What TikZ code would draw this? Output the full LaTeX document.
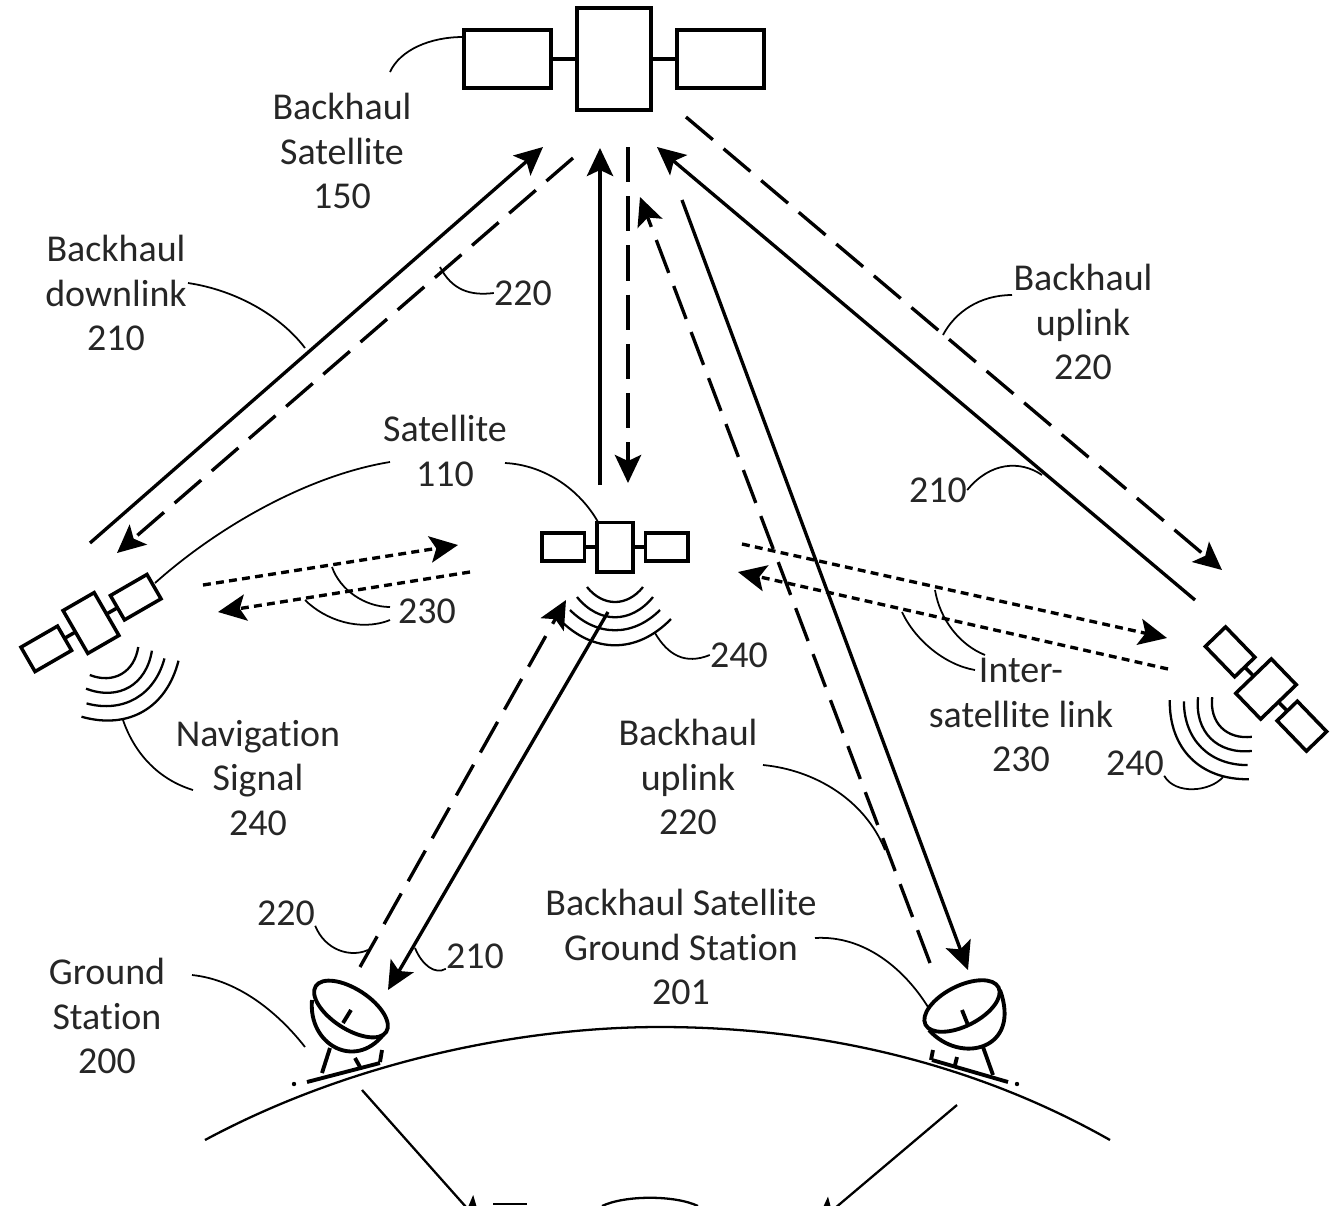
\documentclass[tikz,border=0pt]{standalone}
\usepackage{fontspec}
\setmainfont[Ligatures=NoCommon]{Carlito}
\usetikzlibrary{arrows.meta}
\tikzset{
  link/.style={line width=1.9pt,->},
  backlink/.style={link,dash pattern=on 20pt off 8pt},
  crosslink/.style={link,dash pattern=on 4.5pt off 3pt},
  lead/.style={line width=1pt},
  lbl/.style={align=center,inner sep=0pt,text=black!85,font=\fontsize{21.6}{25.5}\selectfont},
  satline/.style={line width=2pt},
  dishline/.style={line width=2.2pt},
  satellite/.pic={
    \draw[satline] (-37,-51) rectangle (37,51);
    \draw[satline] (-150,-29) rectangle (-63,29);
    \draw[satline] (63,-29) rectangle (150,29);
    \draw[satline] (-63,0) -- (-37,0);
    \draw[satline] (37,0) -- (63,0);
  },
  navwaves/.pic={
    \draw[lead,line width=1.3pt] (-28,0) .. controls (-12,20) and (12,20) .. (28,0);
    \draw[lead,line width=1.3pt] (-38,10) .. controls (-16,37) and (16,37) .. (38,10);
    \draw[lead,line width=1.3pt] (-45,23) .. controls (-18,50) and (18,50) .. (45,23);
    \draw[lead,line width=1.3pt] (-56,32) .. controls (-22,67) and (22,67) .. (56,32);
  },
}
\begin{document}
\begin{tikzpicture}[x=0.02cm,y=-0.02cm,>={Stealth[length=16pt,width=15pt,inset=3.5pt]}]
    \useasboundingbox (0,0) rectangle (1330,1205);
    \clip (0,0) rectangle (1330,1205);

    % satellites
    \pic at (614,59) {satellite};
    \pic[scale=0.485] at (615,547) {satellite};
    \pic[scale=0.485,rotate=30] at (91,623) {satellite};
    \pic[scale=0.485,rotate=-46] at (1266,689) {satellite};
    \pic at (615,587) {navwaves};
    \pic[rotate=30] at (114,661) {navwaves};
    \pic[rotate=-45] at (1232,717) {navwaves};

    % link ends
    \coordinate (TopL) at (543,147);
    \coordinate (TopLd) at (573,158);
    \coordinate (TopC) at (600,148);
    \coordinate (TopCd) at (628,147);
    \coordinate (TopR) at (657,147);
    \coordinate (TopRd) at (686,117);
    \coordinate (TopG) at (682,200);
    \coordinate (TopGd) at (640,197);
    \coordinate (LeftS) at (90,543);
    \coordinate (LeftSd) at (117,553);
    \coordinate (MidC) at (600,485);
    \coordinate (MidCd) at (628,483);
    \coordinate (RightS) at (1195,600);
    \coordinate (RightSd) at (1222,570);
    \coordinate (DishR) at (968,970);
    \coordinate (DishRd) at (930,963);
    \coordinate (DishL) at (388,990);
    \coordinate (DishLd) at (360,967);
    \coordinate (MidG) at (608,612);
    \coordinate (MidGd) at (566,600);

    \draw[link] (LeftS) -- (TopL);
    \draw[backlink] (TopLd) -- (LeftSd);
    \draw[link] (MidC) -- (TopC);
    \draw[backlink] (TopCd) -- (MidCd);
    \draw[link] (RightS) -- (TopR);
    \draw[backlink] (TopRd) -- (RightSd);
    \draw[link] (TopG) -- (DishR);
    \draw[backlink] (DishRd) -- (TopGd);
    \draw[link] (MidG) -- (DishL);
    \draw[backlink] (DishLd) -- (MidGd);

    \coordinate (IslA) at (203,585);
    \coordinate (IslB) at (458,545);
    \coordinate (IslC) at (470,572);
    \coordinate (IslD) at (218,612);
    \coordinate (IslE) at (742,544);
    \coordinate (IslF) at (1167,638);
    \coordinate (IslG) at (1168,669);
    \coordinate (IslH) at (738,572);
    \draw[crosslink] (IslA) -- (IslB);
    \draw[crosslink] (IslC) -- (IslD);
    \draw[crosslink] (IslE) -- (IslF);
    \draw[crosslink] (IslG) -- (IslH);

    % ground
    \draw[lead,line width=1.3pt] (205,1140) .. controls (350,1062) and (520,1027) .. (660,1027)
      .. controls (800,1027) and (960,1055) .. (1110,1140);
    \draw[dishline] (351,1009) circle[x radius=42,y radius=20,rotate=-33];
    \draw[dishline] (312,1000) .. controls (308,1045) and (355,1070) .. (383,1035);
    \draw[dishline] (351,1010) -- (343,1023);
    \draw[dishline] (330,1048) -- (322,1073);
    \draw[dishline] (355,1058) -- (360,1067);
    \draw[dishline] (382,1050) -- (380,1062);
    \draw[dishline] (307,1082) -- (380,1063);
    \fill (294,1084) circle (2.2);
    \draw[dishline] (962,1006) circle[x radius=41,y radius=20,rotate=27];
    \draw[dishline] (929,1030) .. controls (960,1065) and (1022,1050) .. (1000,990);
    \draw[dishline] (962,1010) -- (968,1025);
    \draw[dishline] (983,1047) -- (993,1075);
    \draw[dishline] (933,1050) -- (931,1060);
    \draw[dishline] (957,1057) -- (955,1065);
    \draw[dishline] (932,1060) -- (1008,1082);
    \fill (1017,1084) circle (2.2);

    % cropped part below the ground
    \coordinate (GndL) at (362,1090);
    \coordinate (RecvL) at (482,1225);
    \coordinate (GndR) at (957,1105);
    \coordinate (RecvR) at (815,1225);
    \draw[lead,line width=1.3pt,->] (GndL) -- (RecvL);
    \draw[lead,line width=1.3pt,->] (GndR) -- (RecvR);
    \draw[lead,line width=1.3pt] (493,1204) -- (527,1204);
    \draw[lead,line width=1.3pt] (602,1206) .. controls (625,1195) and (675,1195) .. (698,1206);

    % labels
    \node[lbl] (bsat) at (342,151) {Backhaul\\Satellite\\150};
    \node[lbl] (bdown) at (116,293) {Backhaul\\downlink\\210};
    \node[lbl] (ref220a) at (523,293) {220};
    \node[lbl] (buplinkr) at (1083,322) {Backhaul\\uplink\\220};
    \node[lbl] (sat) at (445,451) {Satellite\\110};
    \node[lbl] (ref210a) at (938,490) {210};
    \node[lbl] (ref230) at (427,611) {230};
    \node[lbl] (ref240a) at (739,655) {240};
    \node[lbl] (isl) at (1021,715) {Inter-\\satellite link\\230};
    \node[lbl] (ref240b) at (1135,763) {240};
    \node[lbl] (navsig) at (258,778) {Navigation\\Signal\\240};
    \node[lbl] (buplinkc) at (688,777) {Backhaul\\uplink\\220};
    \node[lbl] (bground) at (681,947) {Backhaul Satellite\\Ground Station\\201};
    \node[lbl] (ref220b) at (286,913) {220};
    \node[lbl] (ref210b) at (475,956) {210};
    \node[lbl] (ground) at (107,1016) {Ground\\Station\\200};

    % leaders
    \coordinate (BsatL) at (390,72);
    \coordinate (BsatE) at (463,37);
    \coordinate (BdownL) at (188,283);
    \coordinate (BdownE) at (305,348);
    \coordinate (RefaE) at (440,267);
    \coordinate (BupL) at (1012,295);
    \coordinate (BupE) at (943,335);
    \coordinate (RefbE) at (1042,475);
    \coordinate (SatL) at (505,463);
    \coordinate (SatE) at (598,522);
    \coordinate (SatLL) at (390,462);
    \coordinate (SatLE) at (155,583);
    \coordinate (IslaE) at (332,567);
    \coordinate (IslaL) at (390,607);
    \coordinate (IslbE) at (305,600);
    \coordinate (IslbL) at (390,620);
    \coordinate (WaveE) at (655,633);
    \coordinate (IslcE) at (902,612);
    \coordinate (IslcL) at (975,670);
    \coordinate (IsldE) at (935,590);
    \coordinate (IsldL) at (985,655);
    \coordinate (WaveR) at (1223,777);
    \coordinate (WaveL) at (123,720);
    \coordinate (NavL) at (193,790);
    \coordinate (BupcL) at (763,765);
    \coordinate (BupcE) at (885,850);
    \coordinate (RefcE) at (368,950);
    \coordinate (RefdE) at (415,948);
    \coordinate (GndsL) at (192,975);
    \coordinate (GndsE) at (305,1047);
    \coordinate (BgndL) at (815,938);
    \coordinate (BgndE) at (928,1007);

    \draw[lead] (BsatL) .. controls (400,50) and (430,37) .. (BsatE);
    \draw[lead] (BdownL) .. controls (235,290) and (280,315) .. (BdownE);
    \draw[lead] (ref220a.west) .. controls (470,296) and (452,290) .. (RefaE);
    \draw[lead] (BupL) .. controls (980,295) and (955,312) .. (BupE);
    \draw[lead] (ref210a.east) .. controls (990,462) and (1020,460) .. (RefbE);
    \draw[lead] (SatL) .. controls (545,465) and (580,490) .. (SatE);
    \draw[lead] (SatLL) .. controls (310,475) and (220,525) .. (SatLE);
    \draw[lead] (IslaE) .. controls (340,590) and (365,607) .. (IslaL);
    \draw[lead] (IslbE) .. controls (325,620) and (360,632) .. (IslbL);
    \draw[lead] (WaveE) .. controls (668,655) and (685,665) .. (ref240a.west);
    \draw[lead] (IslcE) .. controls (915,640) and (945,665) .. (IslcL);
    \draw[lead] (IsldE) .. controls (940,620) and (960,645) .. (IsldL);
    \draw[lead] (ref240b.south east) .. controls (1175,795) and (1210,792) .. (WaveR);
    \draw[lead] (WaveL) .. controls (135,755) and (160,780) .. (NavL);
    \draw[lead] (BupcL) .. controls (815,770) and (865,800) .. (BupcE);
    \draw[lead] (ref220b.south east) .. controls (325,950) and (350,958) .. (RefcE);
    \draw[lead] (ref210b.south west) .. controls (435,975) and (422,965) .. (RefdE);
    \draw[lead] (GndsL) .. controls (240,980) and (280,1015) .. (GndsE);
    \draw[lead] (BgndL) .. controls (865,935) and (905,970) .. (BgndE);
\end{tikzpicture}
\end{document}
